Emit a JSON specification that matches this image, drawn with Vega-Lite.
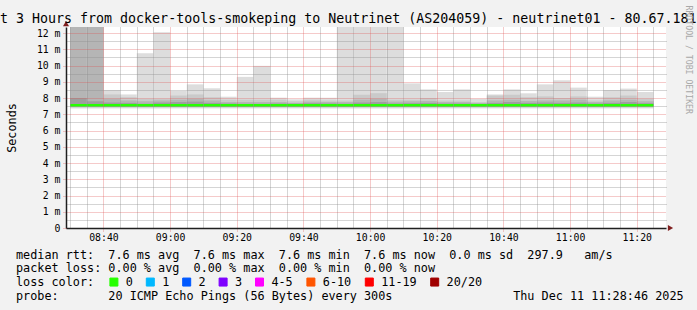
{
  "$schema": "https://vega.github.io/schema/vega-lite/v6.json",
  "width": 600,
  "height": 201,
  "autosize": {"type": "none"},
  "padding": {"left": 66, "top": 27, "right": 31, "bottom": 82},
  "background": "#f2f2f2",
  "config": {
    "font": "DejaVu Sans Mono",
    "view": {"fill": "#ffffff", "stroke": null},
    "axis": {"labelFont": "DejaVu Sans Mono", "titleFont": "DejaVu Sans Mono", "labelColor": "#000000", "titleColor": "#000000", "titleFontWeight": "normal"},
    "axisY": {"labelOverlap": false},
    "axisLeft": {"labelOverlap": false}
  },
  "title": {
    "text": "Last 3 Hours from docker-tools-smokeping to Neutrinet (AS204059) - neutrinet01 - 80.67.181",
    "anchor": "start", "frame": "group", "dx": -90, "dy": 35, "offset": 3.5, "baseline": "alphabetic",
    "font": "DejaVu Sans Mono", "fontSize": 13.3, "fontWeight": "normal", "color": "#000000"
  },
  "data": {"values": [
    {"t":"2025-12-11T08:30:00Z","te":"2025-12-11T08:35:00Z","min":7.36,"p05":7.42,"p15":7.46,"p25":7.5,"med":7.55,"p75":8.0,"p85":13,"p95":13,"max":13,"loss":"0"},
    {"t":"2025-12-11T08:35:00Z","te":"2025-12-11T08:40:00Z","min":7.36,"p05":7.42,"p15":7.46,"p25":7.5,"med":7.55,"p75":7.8,"p85":13,"p95":13,"max":13,"loss":"0"},
    {"t":"2025-12-11T08:40:00Z","te":"2025-12-11T08:45:00Z","min":7.36,"p05":7.42,"p15":7.46,"p25":7.5,"med":7.55,"p75":7.72,"p85":7.95,"p95":8.22,"max":8.49,"loss":"0"},
    {"t":"2025-12-11T08:45:00Z","te":"2025-12-11T08:50:00Z","min":7.36,"p05":7.42,"p15":7.46,"p25":7.5,"med":7.55,"p75":7.7,"p85":7.85,"p95":8.05,"max":8.22,"loss":"0"},
    {"t":"2025-12-11T08:50:00Z","te":"2025-12-11T08:55:00Z","min":7.36,"p05":7.42,"p15":7.46,"p25":7.5,"med":7.55,"p75":7.65,"p85":7.8,"p95":7.95,"max":10.76,"loss":"0"},
    {"t":"2025-12-11T08:55:00Z","te":"2025-12-11T09:00:00Z","min":7.36,"p05":7.42,"p15":7.46,"p25":7.5,"med":7.55,"p75":7.72,"p85":7.85,"p95":7.95,"max":12.04,"loss":"0"},
    {"t":"2025-12-11T09:00:00Z","te":"2025-12-11T09:05:00Z","min":7.36,"p05":7.42,"p15":7.46,"p25":7.5,"med":7.55,"p75":7.75,"p85":7.9,"p95":8.15,"max":8.43,"loss":"0"},
    {"t":"2025-12-11T09:05:00Z","te":"2025-12-11T09:10:00Z","min":7.36,"p05":7.42,"p15":7.46,"p25":7.5,"med":7.55,"p75":7.78,"p85":7.95,"p95":8.22,"max":8.84,"loss":"0"},
    {"t":"2025-12-11T09:10:00Z","te":"2025-12-11T09:15:00Z","min":7.36,"p05":7.42,"p15":7.46,"p25":7.5,"med":7.55,"p75":7.7,"p85":7.85,"p95":8.05,"max":8.6,"loss":"0"},
    {"t":"2025-12-11T09:15:00Z","te":"2025-12-11T09:20:00Z","min":7.36,"p05":7.42,"p15":7.46,"p25":7.5,"med":7.55,"p75":7.66,"p85":7.75,"p95":7.9,"max":8.08,"loss":"0"},
    {"t":"2025-12-11T09:20:00Z","te":"2025-12-11T09:25:00Z","min":7.36,"p05":7.42,"p15":7.46,"p25":7.5,"med":7.55,"p75":7.64,"p85":7.75,"p95":7.9,"max":9.3,"loss":"0"},
    {"t":"2025-12-11T09:25:00Z","te":"2025-12-11T09:30:00Z","min":7.36,"p05":7.42,"p15":7.46,"p25":7.5,"med":7.55,"p75":7.64,"p85":7.75,"p95":7.9,"max":9.98,"loss":"0"},
    {"t":"2025-12-11T09:30:00Z","te":"2025-12-11T09:35:00Z","min":7.36,"p05":7.42,"p15":7.46,"p25":7.5,"med":7.55,"p75":7.66,"p85":7.75,"p95":7.9,"max":8.02,"loss":"0"},
    {"t":"2025-12-11T09:35:00Z","te":"2025-12-11T09:40:00Z","min":7.36,"p05":7.42,"p15":7.46,"p25":7.5,"med":7.55,"p75":7.65,"p85":7.7,"p95":7.8,"max":7.92,"loss":"0"},
    {"t":"2025-12-11T09:40:00Z","te":"2025-12-11T09:45:00Z","min":7.36,"p05":7.42,"p15":7.46,"p25":7.5,"med":7.55,"p75":7.68,"p85":7.78,"p95":7.9,"max":8.02,"loss":"0"},
    {"t":"2025-12-11T09:45:00Z","te":"2025-12-11T09:50:00Z","min":7.36,"p05":7.42,"p15":7.46,"p25":7.5,"med":7.55,"p75":7.66,"p85":7.75,"p95":7.85,"max":8.02,"loss":"0"},
    {"t":"2025-12-11T09:50:00Z","te":"2025-12-11T09:55:00Z","min":7.36,"p05":7.42,"p15":7.46,"p25":7.5,"med":7.55,"p75":7.65,"p85":7.75,"p95":7.85,"max":13,"loss":"0"},
    {"t":"2025-12-11T09:55:00Z","te":"2025-12-11T10:00:00Z","min":7.36,"p05":7.42,"p15":7.46,"p25":7.5,"med":7.55,"p75":7.72,"p85":7.9,"p95":8.2,"max":13,"loss":"0"},
    {"t":"2025-12-11T10:00:00Z","te":"2025-12-11T10:05:00Z","min":7.36,"p05":7.42,"p15":7.46,"p25":7.5,"med":7.55,"p75":7.75,"p85":7.95,"p95":8.3,"max":13,"loss":"0"},
    {"t":"2025-12-11T10:05:00Z","te":"2025-12-11T10:10:00Z","min":7.36,"p05":7.42,"p15":7.46,"p25":7.5,"med":7.55,"p75":7.66,"p85":7.78,"p95":7.9,"max":13,"loss":"0"},
    {"t":"2025-12-11T10:10:00Z","te":"2025-12-11T10:15:00Z","min":7.36,"p05":7.42,"p15":7.46,"p25":7.5,"med":7.55,"p75":7.68,"p85":7.8,"p95":7.9,"max":8.9,"loss":"0"},
    {"t":"2025-12-11T10:15:00Z","te":"2025-12-11T10:20:00Z","min":7.36,"p05":7.42,"p15":7.46,"p25":7.5,"med":7.55,"p75":7.7,"p85":7.82,"p95":8.0,"max":8.53,"loss":"0"},
    {"t":"2025-12-11T10:20:00Z","te":"2025-12-11T10:25:00Z","min":7.36,"p05":7.42,"p15":7.46,"p25":7.5,"med":7.55,"p75":7.66,"p85":7.75,"p95":7.85,"max":8.37,"loss":"0"},
    {"t":"2025-12-11T10:25:00Z","te":"2025-12-11T10:30:00Z","min":7.36,"p05":7.42,"p15":7.46,"p25":7.5,"med":7.55,"p75":7.66,"p85":7.75,"p95":7.85,"max":8.53,"loss":"0"},
    {"t":"2025-12-11T10:30:00Z","te":"2025-12-11T10:35:00Z","min":7.36,"p05":7.42,"p15":7.46,"p25":7.5,"med":7.55,"p75":7.64,"p85":7.68,"p95":7.75,"max":7.95,"loss":"0"},
    {"t":"2025-12-11T10:35:00Z","te":"2025-12-11T10:40:00Z","min":7.36,"p05":7.42,"p15":7.46,"p25":7.5,"med":7.55,"p75":7.7,"p85":7.85,"p95":8.15,"max":8.22,"loss":"0"},
    {"t":"2025-12-11T10:40:00Z","te":"2025-12-11T10:45:00Z","min":7.36,"p05":7.42,"p15":7.46,"p25":7.5,"med":7.55,"p75":7.75,"p85":7.9,"p95":8.2,"max":8.53,"loss":"0"},
    {"t":"2025-12-11T10:45:00Z","te":"2025-12-11T10:50:00Z","min":7.36,"p05":7.42,"p15":7.46,"p25":7.5,"med":7.55,"p75":7.7,"p85":7.82,"p95":8.05,"max":8.29,"loss":"0"},
    {"t":"2025-12-11T10:50:00Z","te":"2025-12-11T10:55:00Z","min":7.36,"p05":7.42,"p15":7.46,"p25":7.5,"med":7.55,"p75":7.72,"p85":7.85,"p95":8.1,"max":8.84,"loss":"0"},
    {"t":"2025-12-11T10:55:00Z","te":"2025-12-11T11:00:00Z","min":7.36,"p05":7.42,"p15":7.46,"p25":7.5,"med":7.55,"p75":7.7,"p85":7.85,"p95":8.0,"max":9.09,"loss":"0"},
    {"t":"2025-12-11T11:00:00Z","te":"2025-12-11T11:05:00Z","min":7.36,"p05":7.42,"p15":7.46,"p25":7.5,"med":7.55,"p75":7.72,"p85":7.9,"p95":8.1,"max":8.64,"loss":"0"},
    {"t":"2025-12-11T11:05:00Z","te":"2025-12-11T11:10:00Z","min":7.36,"p05":7.42,"p15":7.46,"p25":7.5,"med":7.55,"p75":7.66,"p85":7.75,"p95":7.85,"max":8.08,"loss":"0"},
    {"t":"2025-12-11T11:10:00Z","te":"2025-12-11T11:15:00Z","min":7.36,"p05":7.42,"p15":7.46,"p25":7.5,"med":7.55,"p75":7.7,"p85":7.85,"p95":8.05,"max":8.49,"loss":"0"},
    {"t":"2025-12-11T11:15:00Z","te":"2025-12-11T11:20:00Z","min":7.36,"p05":7.42,"p15":7.46,"p25":7.5,"med":7.55,"p75":7.75,"p85":7.9,"p95":8.15,"max":8.58,"loss":"0"},
    {"t":"2025-12-11T11:20:00Z","te":"2025-12-11T11:25:00Z","min":7.36,"p05":7.42,"p15":7.46,"p25":7.5,"med":7.55,"p75":7.68,"p85":7.8,"p95":7.95,"max":8.37,"loss":"0"}
  ]},
  "resolve": {"scale": {"x": "independent", "y": "independent"}},
  "layer": [
    {
      "mark": {"type": "rect", "color": "#dddddd", "clip": true, "strokeWidth": 0},
      "encoding": {
        "x": {
          "field": "t", "type": "temporal",
          "scale": {"type": "utc", "domain": [
            {"year": 2025, "month": 12, "date": 11, "hours": 8, "minutes": 28, "seconds": 46, "utc": true},
            {"year": 2025, "month": 12, "date": 11, "hours": 11, "minutes": 28, "seconds": 46, "utc": true}
          ]},
          "axis": {
            "orient": "bottom",
            "values": [
              {"year": 2025, "month": 12, "date": 11, "hours": 8, "minutes": 40, "utc": true},
              {"year": 2025, "month": 12, "date": 11, "hours": 9, "minutes": 0, "utc": true},
              {"year": 2025, "month": 12, "date": 11, "hours": 9, "minutes": 20, "utc": true},
              {"year": 2025, "month": 12, "date": 11, "hours": 9, "minutes": 40, "utc": true},
              {"year": 2025, "month": 12, "date": 11, "hours": 10, "minutes": 0, "utc": true},
              {"year": 2025, "month": 12, "date": 11, "hours": 10, "minutes": 20, "utc": true},
              {"year": 2025, "month": 12, "date": 11, "hours": 10, "minutes": 40, "utc": true},
              {"year": 2025, "month": 12, "date": 11, "hours": 11, "minutes": 0, "utc": true},
              {"year": 2025, "month": 12, "date": 11, "hours": 11, "minutes": 20, "utc": true}
            ],
            "labelExpr": "utcFormat(datum.value, '%H:%M')",
            "grid": true, "gridColor": "#de4f4f", "gridOpacity": 0.6, "gridDash": [1, 1], "gridWidth": 1,
            "ticks": true, "tickSize": 3, "tickColor": "#de4f4f", "tickOpacity": 0.6, "tickDash": [1, 1],
            "domain": true, "domainColor": "#1f1f1f", "domainWidth": 1.5,
            "labelFontSize": 9.8, "labelBaseline": "alphabetic", "labelPadding": 9, "labelFlush": false, "labelOverlap": false,
            "title": [
              "median rtt:\u00a0\u00a07.6 ms avg\u00a0\u00a07.6 ms max\u00a0\u00a07.6 ms min\u00a0\u00a07.6 ms now\u00a0\u00a00.0 ms sd\u00a0\u00a0297.9\u00a0\u00a0\u00a0am/s",
              "packet loss: 0.00 % avg\u00a0\u00a00.00 % max\u00a0\u00a00.00 % min\u00a0\u00a00.00 % now",
              "loss color:",
              "probe:\u00a0\u00a0\u00a0\u00a0\u00a0\u00a0\u00a020 ICMP Echo Pings (56 Bytes) every 300s\u00a0\u00a0\u00a0\u00a0\u00a0\u00a0\u00a0\u00a0\u00a0\u00a0\u00a0\u00a0\u00a0\u00a0\u00a0\u00a0\u00a0Thu Dec 11 11:28:46 2025"
            ],
            "titleFontSize": 11.8, "titleAnchor": "start", "titleAlign": "left", "titleBaseline": "alphabetic",
            "titleX": -50.5, "titleY": 30.3, "titleLineHeight": 13.7,
            "zindex": 1
          }
        },
        "x2": {"field": "te"},
        "y": {
          "field": "min", "type": "quantitative",
          "scale": {"domain": [0, 12.37], "nice": false, "zero": false},
          "axis": {
            "orient": "left",
            "values": [0, 1, 2, 3, 4, 5, 6, 7, 8, 9, 10, 11, 12],
            "labelExpr": "datum.value == 0 ? '0\u00a0\u00a0' : datum.value + '\u00a0m'",
            "labelOverlap": false, "labelFlush": false,
            "grid": true, "gridColor": "#de4f4f", "gridOpacity": 0.6, "gridDash": [1, 1], "gridWidth": 1,
            "ticks": true, "tickSize": 3, "tickColor": "#de4f4f", "tickOpacity": 0.6, "tickDash": [1, 1],
            "domain": true, "domainColor": "#1f1f1f", "domainWidth": 1.5,
            "labelFontSize": 9.8, "labelPadding": 3,
            "title": "Seconds", "titleFontSize": 11.8, "titleAngle": -90, "titleAlign": "center", "titleBaseline": "alphabetic",
            "titleX": -51, "titleY": 100.5,
            "zindex": 1
          }
        },
        "y2": {"field": "max"}
      }
    },
    {
      "mark": {"type": "rect", "color": "#cacaca", "clip": true, "strokeWidth": 0},
      "encoding": {
        "x": {
          "field": "t", "type": "temporal",
          "scale": {"type": "utc", "domain": [
            {"year": 2025, "month": 12, "date": 11, "hours": 8, "minutes": 28, "seconds": 46, "utc": true},
            {"year": 2025, "month": 12, "date": 11, "hours": 11, "minutes": 28, "seconds": 46, "utc": true}
          ]},
          "axis": {
            "orient": "top",
            "values": [
              {"year": 2025, "month": 12, "date": 11, "hours": 8, "minutes": 30, "utc": true},
              {"year": 2025, "month": 12, "date": 11, "hours": 8, "minutes": 35, "utc": true},
              {"year": 2025, "month": 12, "date": 11, "hours": 8, "minutes": 45, "utc": true},
              {"year": 2025, "month": 12, "date": 11, "hours": 8, "minutes": 50, "utc": true},
              {"year": 2025, "month": 12, "date": 11, "hours": 8, "minutes": 55, "utc": true},
              {"year": 2025, "month": 12, "date": 11, "hours": 9, "minutes": 5, "utc": true},
              {"year": 2025, "month": 12, "date": 11, "hours": 9, "minutes": 10, "utc": true},
              {"year": 2025, "month": 12, "date": 11, "hours": 9, "minutes": 15, "utc": true},
              {"year": 2025, "month": 12, "date": 11, "hours": 9, "minutes": 25, "utc": true},
              {"year": 2025, "month": 12, "date": 11, "hours": 9, "minutes": 30, "utc": true},
              {"year": 2025, "month": 12, "date": 11, "hours": 9, "minutes": 35, "utc": true},
              {"year": 2025, "month": 12, "date": 11, "hours": 9, "minutes": 45, "utc": true},
              {"year": 2025, "month": 12, "date": 11, "hours": 9, "minutes": 50, "utc": true},
              {"year": 2025, "month": 12, "date": 11, "hours": 9, "minutes": 55, "utc": true},
              {"year": 2025, "month": 12, "date": 11, "hours": 10, "minutes": 5, "utc": true},
              {"year": 2025, "month": 12, "date": 11, "hours": 10, "minutes": 10, "utc": true},
              {"year": 2025, "month": 12, "date": 11, "hours": 10, "minutes": 15, "utc": true},
              {"year": 2025, "month": 12, "date": 11, "hours": 10, "minutes": 25, "utc": true},
              {"year": 2025, "month": 12, "date": 11, "hours": 10, "minutes": 30, "utc": true},
              {"year": 2025, "month": 12, "date": 11, "hours": 10, "minutes": 35, "utc": true},
              {"year": 2025, "month": 12, "date": 11, "hours": 10, "minutes": 45, "utc": true},
              {"year": 2025, "month": 12, "date": 11, "hours": 10, "minutes": 50, "utc": true},
              {"year": 2025, "month": 12, "date": 11, "hours": 10, "minutes": 55, "utc": true},
              {"year": 2025, "month": 12, "date": 11, "hours": 11, "minutes": 5, "utc": true},
              {"year": 2025, "month": 12, "date": 11, "hours": 11, "minutes": 10, "utc": true},
              {"year": 2025, "month": 12, "date": 11, "hours": 11, "minutes": 15, "utc": true},
              {"year": 2025, "month": 12, "date": 11, "hours": 11, "minutes": 25, "utc": true}
            ],
            "grid": true, "gridColor": "#8f8f8f", "gridOpacity": 0.75, "gridDash": [1, 1], "gridWidth": 1,
            "labels": false, "ticks": false, "domain": false, "title": null, "zindex": 1
          }
        },
        "x2": {"field": "te"},
        "y": {
          "field": "p05", "type": "quantitative",
          "scale": {"domain": [0, 12.37], "nice": false, "zero": false},
          "axis": {
            "orient": "right",
            "values": [0.5, 1.5, 2.5, 3.5, 4.5, 5.5, 6.5, 7.5, 8.5, 9.5, 10.5, 11.5],
            "grid": true, "gridColor": "#8f8f8f", "gridOpacity": 0.75, "gridDash": [1, 1], "gridWidth": 1,
            "labels": false, "ticks": false, "domain": false,
            "title": "RRDTOOL / TOBI OETIKER", "titleAngle": 90, "titleAlign": "left", "titleBaseline": "alphabetic",
            "titleX": 19.5, "titleY": -22, "titleFontSize": 8.2, "titleColor": "#a8a8a8", "zindex": 1
          }
        },
        "y2": {"field": "p95"}
      }
    },
    {
      "layer": [
        {
          "mark": {"type": "rect", "color": "#b5b5b5", "clip": true, "strokeWidth": 0},
          "encoding": {
            "x": {
              "field": "t", "type": "temporal", "axis": null,
              "scale": {"type": "utc", "domain": [
                {"year": 2025, "month": 12, "date": 11, "hours": 8, "minutes": 28, "seconds": 46, "utc": true},
                {"year": 2025, "month": 12, "date": 11, "hours": 11, "minutes": 28, "seconds": 46, "utc": true}
              ]}
            },
            "x2": {"field": "te"},
            "y": {"field": "p15", "type": "quantitative", "axis": null, "scale": {"domain": [0, 12.37], "nice": false, "zero": false}},
            "y2": {"field": "p85"}
          }
        },
        {
          "mark": {"type": "rect", "color": "#9e9e9e", "clip": true, "strokeWidth": 0},
          "encoding": {
            "x": {"field": "t", "type": "temporal", "axis": null},
            "x2": {"field": "te"},
            "y": {"field": "p25", "type": "quantitative", "axis": null},
            "y2": {"field": "p75"}
          }
        },
        {
          "mark": {"type": "rule", "strokeWidth": 2.7, "strokeCap": "butt"},
          "encoding": {
            "x": {"field": "t", "type": "temporal", "axis": null},
            "x2": {"field": "te"},
            "y": {"field": "med", "type": "quantitative", "axis": null},
            "color": {
              "field": "loss", "type": "nominal",
              "scale": {
                "domain": ["0", "1", "2", "3", "4-5", "6-10", "11-19", "20/20"],
                "range": ["#26ff00", "#00b8ff", "#0059ff", "#7e00ff", "#ff00ff", "#ff5500", "#ff0000", "#a00000"]
              },
              "legend": {
                "orient": "none", "legendX": 42, "legendY": 249,
                "direction": "horizontal", "columns": 8, "title": null,
                "symbolType": "square", "symbolSize": 64, "symbolStrokeColor": "#000000", "symbolStrokeWidth": 1,
                "labelFont": "DejaVu Sans Mono", "labelFontSize": 11.8, "labelColor": "#000000",
                "labelOffset": 6, "columnPadding": 10.4, "rowPadding": 0, "padding": 0,
                "encode": {
                  "symbols": {"update": {
                    "fill": {"scale": "color", "field": "value"},
                    "stroke": {"value": "#000000"},
                    "strokeWidth": {"value": 1},
                    "shape": {"value": "square"},
                    "size": {"value": 64},
                    "opacity": {"value": 1}
                  }}
                }
              }
            }
          }
        },
        {
          "data": {"values": [{}]},
          "mark": {"type": "point", "shape": "triangle-right", "filled": true, "color": "#801f1f", "size": 36, "opacity": 1, "clip": false},
          "encoding": {
            "x": {"datum": {"year": 2025, "month": 12, "date": 11, "hours": 11, "minutes": 30, "seconds": 7, "utc": true}, "type": "temporal", "axis": null},
            "y": {"datum": 0, "type": "quantitative", "axis": null}
          }
        },
        {
          "data": {"values": [{}]},
          "mark": {"type": "point", "shape": "triangle-up", "filled": true, "color": "#801f1f", "size": 36, "opacity": 1, "clip": false},
          "encoding": {
            "x": {"datum": {"year": 2025, "month": 12, "date": 11, "hours": 8, "minutes": 28, "seconds": 46, "utc": true}, "type": "temporal", "axis": null},
            "y": {"datum": 12.58, "type": "quantitative", "axis": null}
          }
        }
      ]
    }
  ]
}
